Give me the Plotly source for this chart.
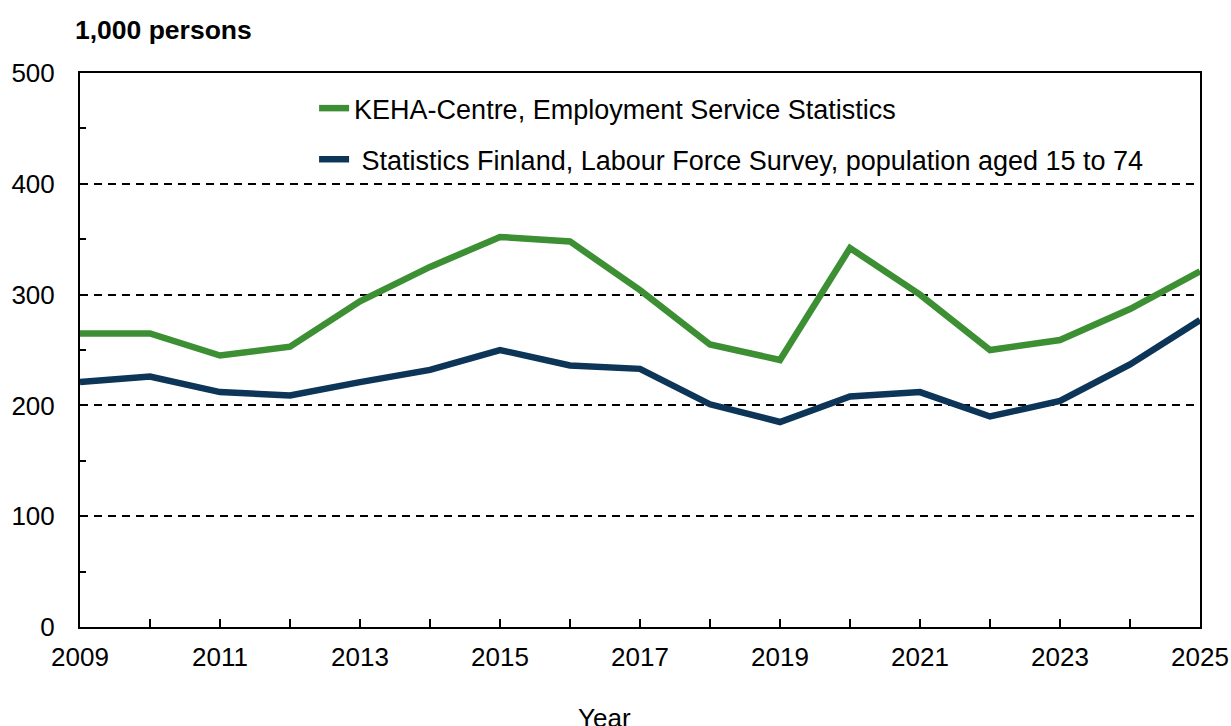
import plotly.graph_objects as go

years = list(range(2009, 2026))
keha = [265, 265, 245, 253, 294, 325, 352, 348, 304, 255, 241, 342, 300, 250, 259, 287, 321]
lfs = [221, 226, 212, 209, 221, 232, 250, 236, 233, 201, 185, 208, 212, 190, 204, 237, 277]
series_names = ["KEHA-Centre, Employment Service Statistics",
                "Statistics Finland, Labour Force Survey, population aged 15 to 74"]
x_tick_labels = [str(y) if (y - 2009) % 2 == 0 else "" for y in years]

FONT = "Liberation Sans, Arial, sans-serif"
FS = 26

fig = go.Figure()
fig.add_trace(go.Scatter(x=years, y=keha, mode="lines", name=series_names[0],
                         line=dict(color="#3d8f33", width=6.5), legendgroup="a"))
fig.add_trace(go.Scatter(x=years, y=lfs, mode="lines", name=" " + series_names[1],
                         line=dict(color="#0c3558", width=6.5), legendgroup="b"))

fig.update_layout(
    width=1231, height=726,
    margin=dict(l=80, r=31, t=73, b=99, autoexpand=False),
    plot_bgcolor="white", paper_bgcolor="white",
    font=dict(family=FONT, size=FS, color="black"),
    showlegend=True,
    legend=dict(x=0.209, y=0.98, xanchor="left", yanchor="top",
                bgcolor="rgba(0,0,0,0)", font=dict(size=27),
                tracegroupgap=13),
    xaxis=dict(range=[2009, 2025], tickmode="array", tickvals=years, ticktext=x_tick_labels,
               ticks="inside", ticklen=8, tickwidth=1.5, tickcolor="black",
               showline=True, linecolor="black", linewidth=2, mirror=True,
               showgrid=False, zeroline=False, tickfont=dict(size=FS),
               ticklabelstandoff=6, automargin=False),
    yaxis=dict(range=[0, 500], tickmode="linear", tick0=0, dtick=100,
               ticks="", showline=True, linecolor="black", linewidth=2, mirror=True,
               showgrid=True, gridcolor="black", griddash="8px,6px", gridwidth=2,
               zeroline=False, tickfont=dict(size=FS), ticklabelstandoff=18,
               automargin=False,
               minor=dict(dtick=50, ticks="inside", ticklen=6, tickwidth=1.5,
                          tickcolor="black", showgrid=False)),
)

fig.add_annotation(text="<b>1,000 persons</b>", xref="paper", yref="paper",
                   x=-0.006, y=1 + (73 - 30) / 554, xanchor="left", yanchor="middle",
                   showarrow=False, font=dict(size=26.5, family=FONT))
fig.add_annotation(text="Year", xref="paper", yref="paper",
                   x=0.468, y=-(718 - 627) / 554, xanchor="center", yanchor="middle",
                   showarrow=False, font=dict(size=FS, family=FONT))

fig.write_html("out.html", config={"displayModeBar": False},
               post_script="document.body.style.margin='0';document.body.style.overflow='hidden';")
